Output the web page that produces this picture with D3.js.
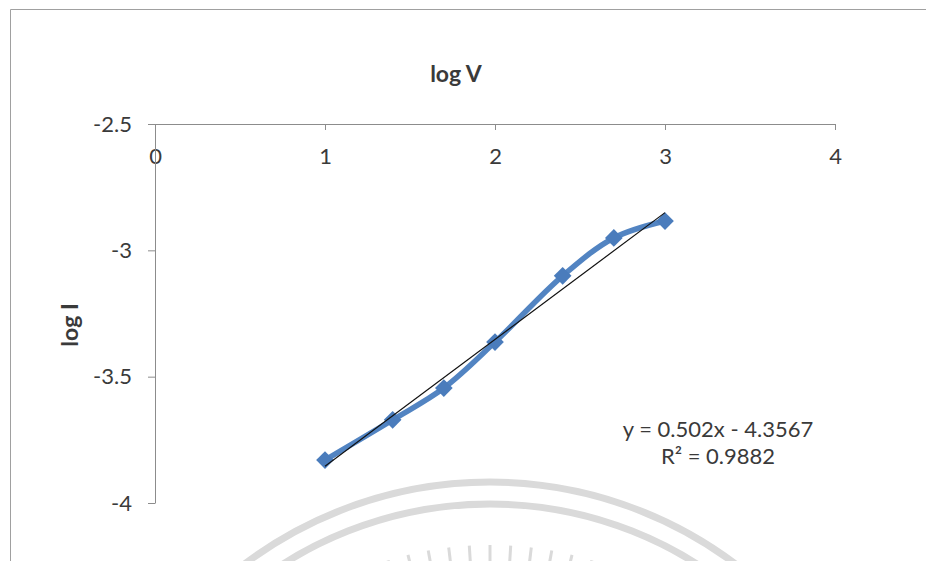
<!DOCTYPE html>
<html>
<head>
<meta charset="utf-8">
<script src="https://cdn.jsdelivr.net/npm/d3@7"></script>
<style>
  html, body { margin: 0; padding: 0; background: #fff; }
  svg { display: block; }
  text { font-family: Lato, "Open Sans", sans-serif; fill: #3a3a3a; }
</style>
</head>
<body>
<svg id="chart" width="926" height="561"></svg>
<script>
// log V (x) and log I (y) measurements
const logV = [1, 1.398, 1.699, 2, 2.398, 2.699, 3];
const logI = [-3.83, -3.671, -3.545, -3.363, -3.101, -2.951, -2.884];

// Linear trendline as reported
const slope = 0.502;
const intercept = -4.3567;
const rSquared = 0.9882;

const xTicks = [0, 1, 2, 3, 4];
const yTicks = [-2.5, -3, -3.5, -4];

const svg = d3.select("#chart");
const W = 926, H = 561;

// Decorative watermark arcs in the background
const wm = svg.append("g").attr("fill", "none").attr("stroke", "#dadada");
const cx = 490, cy = 890;
[[408, 7], [386, 7]].forEach(([r, w]) => {
  wm.append("circle").attr("cx", cx).attr("cy", cy).attr("r", r).attr("stroke-width", w);
});
d3.range(-0.3, 0.31, 0.06).forEach(a => {
  const r0 = 300, r1 = 345;
  wm.append("line")
    .attr("x1", cx + r0 * Math.sin(a)).attr("y1", cy - r0 * Math.cos(a))
    .attr("x2", cx + r1 * Math.sin(a)).attr("y2", cy - r1 * Math.cos(a))
    .attr("stroke-width", 3);
});

// Chart area frame
svg.append("path")
  .attr("d", `M10.5,${H} L10.5,9.5 L${W},9.5`)
  .attr("fill", "none").attr("stroke", "#a0a0a0").attr("stroke-width", 1);

const x = d3.scaleLinear().domain([0, 4]).range([155, 835]);
const y = d3.scaleLinear().domain([-2.5, -4]).range([124, 503]);

// x axis sits at the top of the plot (y = -2.5), labels below the line
const xAxis = svg.append("g")
  .attr("transform", `translate(0,${y(-2.5)})`)
  .call(d3.axisBottom(x).tickValues(xTicks).tickFormat(d3.format("d")).tickSize(6).tickPadding(18).tickSizeOuter(0));
xAxis.select(".domain").attr("stroke", "#8c8c8c").attr("d", `M${x(0) - 7},0.5H${x(4)}`);
xAxis.selectAll(".tick line").attr("stroke", "#8c8c8c");
xAxis.selectAll(".tick text").attr("font-size", 22).attr("fill", "#3a3a3a");

const yAxis = svg.append("g")
  .attr("transform", `translate(${x(0)},0)`)
  .call(d3.axisLeft(y).tickValues(yTicks).tickFormat(d => d).tickSize(7).tickPadding(16).tickSizeOuter(0));
yAxis.select(".domain").attr("stroke", "#8c8c8c");
yAxis.selectAll(".tick line").attr("stroke", "#8c8c8c");
yAxis.selectAll(".tick text").attr("font-size", 22).attr("fill", "#3a3a3a");

// Titles
svg.append("text").attr("x", 456).attr("y", 82).attr("text-anchor", "middle")
  .attr("font-size", 23).attr("font-weight", "bold").attr("fill", "#222").text("log V");
svg.append("text").attr("transform", "translate(78,325) rotate(-90)").attr("text-anchor", "middle")
  .attr("font-size", 23).attr("font-weight", "bold").attr("fill", "#222").text("log I");

// Smoothed data line
const data = logV.map((v, i) => [v, logI[i]]);
svg.append("path")
  .datum(data)
  .attr("fill", "none")
  .attr("stroke", "#5284c2")
  .attr("stroke-width", 5.5)
  .attr("stroke-linejoin", "round")
  .attr("d", d3.line().x(d => x(d[0])).y(d => y(d[1])).curve(d3.curveCatmullRom.alpha(0.5)));

// Diamond markers
svg.append("g").selectAll("path")
  .data(data)
  .join("path")
  .attr("transform", d => `translate(${x(d[0])},${y(d[1])})`)
  .attr("d", d3.symbol().type(d3.symbolDiamond2).size(200))
  .attr("fill", "#4a7cbc");

// Linear trendline across the data range
const xr = d3.extent(logV);
svg.append("line")
  .attr("x1", x(xr[0])).attr("y1", y(slope * xr[0] + intercept))
  .attr("x2", x(xr[1])).attr("y2", y(slope * xr[1] + intercept))
  .attr("stroke", "#111").attr("stroke-width", 1.2);

// Equation label
const eq = svg.append("text").attr("text-anchor", "middle").attr("font-size", 22).attr("fill", "#404040");
eq.append("tspan").attr("x", 718).attr("y", 437).text(`y = ${slope}x - ${Math.abs(intercept)}`);
eq.append("tspan").attr("x", 718).attr("y", 464).text(`R² = ${rSquared}`);
</script>
</body>
</html>
